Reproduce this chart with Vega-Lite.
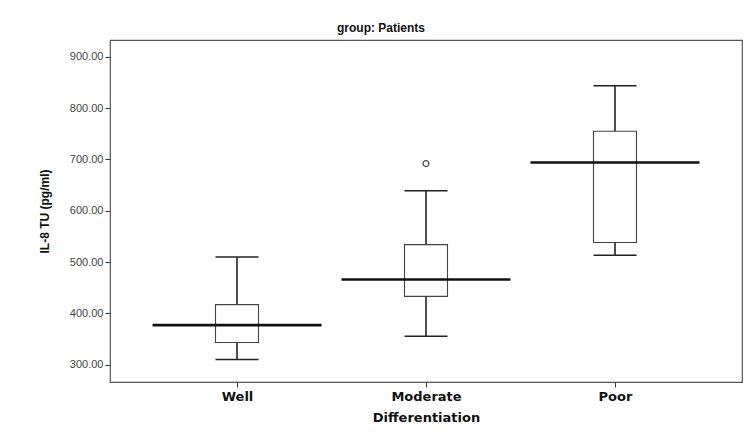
{
  "$schema": "https://vega.github.io/schema/vega-lite/v6.json",
  "width": 632,
  "height": 342,
  "autosize": {"type": "none"},
  "padding": {"left": 110, "top": 40, "right": 6, "bottom": 53},
  "background": "white",
  "title": {
    "text": "group: Patients",
    "font": "Liberation Sans",
    "fontSize": 12,
    "fontWeight": "bold",
    "color": "#111",
    "anchor": "middle",
    "dx": -45,
    "offset": 5
  },
  "config": {
    "view": {"stroke": "#555", "strokeWidth": 1.2},
    "axis": {"grid": false}
  },
  "datasets": {
    "boxes": [
      {"group": "Well", "lower": 310, "q1": 343, "median": 377, "q3": 417, "upper": 510},
      {"group": "Moderate", "lower": 355, "q1": 433, "median": 466, "q3": 534, "upper": 639},
      {"group": "Poor", "lower": 513, "q1": 538, "median": 694, "q3": 755, "upper": 844}
    ],
    "outliers": [
      {"group": "Moderate", "value": 692}
    ]
  },
  "encoding": {
    "x": {
      "field": "group",
      "type": "nominal",
      "sort": ["Well", "Moderate", "Poor"],
      "scale": {"type": "point", "padding": 0.672},
      "axis": {
        "title": "Differentiation",
        "labelAngle": 0,
        "labelFont": "DejaVu Sans",
        "labelFontSize": 13,
        "labelFontWeight": "bold",
        "labelColor": "#111",
        "labelPadding": 3,
        "tickSize": 5,
        "tickColor": "#333",
        "domain": false,
        "titleFont": "DejaVu Sans",
        "titleFontSize": 13,
        "titleFontWeight": "bold",
        "titleColor": "#111",
        "titlePadding": 8
      }
    }
  },
  "layer": [
    {
      "data": {"name": "boxes"},
      "mark": {"type": "rule", "color": "#222", "strokeWidth": 1.6, "opacity": 1},
      "encoding": {
        "y": {
          "field": "lower",
          "type": "quantitative",
          "scale": {"domain": [266, 933], "nice": false, "zero": false},
          "axis": {
            "title": "IL-8 TU (pg/ml)",
            "values": [300, 400, 500, 600, 700, 800, 900],
            "format": ".2f",
            "labelFont": "Liberation Sans",
            "labelFontSize": 11,
            "labelColor": "#444",
            "labelPadding": 2,
            "tickSize": 5,
            "tickColor": "#333",
            "domain": false,
            "titleFont": "Liberation Sans",
            "titleFontSize": 12,
            "titleFontWeight": "bold",
            "titleColor": "#111",
            "titlePadding": 18
          }
        },
        "y2": {"field": "upper"}
      }
    },
    {
      "data": {"name": "boxes"},
      "mark": {"type": "bar", "size": 43, "fill": "white", "stroke": "#444", "strokeWidth": 1.1, "opacity": 1},
      "encoding": {
        "y": {"field": "q1", "type": "quantitative"},
        "y2": {"field": "q3"}
      }
    },
    {
      "data": {"name": "boxes"},
      "mark": {"type": "tick", "size": 43, "thickness": 1.5, "color": "#222", "opacity": 1},
      "encoding": {"y": {"field": "lower", "type": "quantitative"}}
    },
    {
      "data": {"name": "boxes"},
      "mark": {"type": "tick", "size": 43, "thickness": 1.5, "color": "#222", "opacity": 1},
      "encoding": {"y": {"field": "upper", "type": "quantitative"}}
    },
    {
      "data": {"name": "boxes"},
      "mark": {"type": "tick", "size": 169, "thickness": 2.6, "color": "#111", "opacity": 1},
      "encoding": {"y": {"field": "median", "type": "quantitative"}}
    },
    {
      "data": {"name": "outliers"},
      "mark": {"type": "point", "shape": "circle", "size": 35, "filled": false, "stroke": "#444", "strokeWidth": 1.2, "opacity": 1},
      "encoding": {"y": {"field": "value", "type": "quantitative"}}
    }
  ]
}
